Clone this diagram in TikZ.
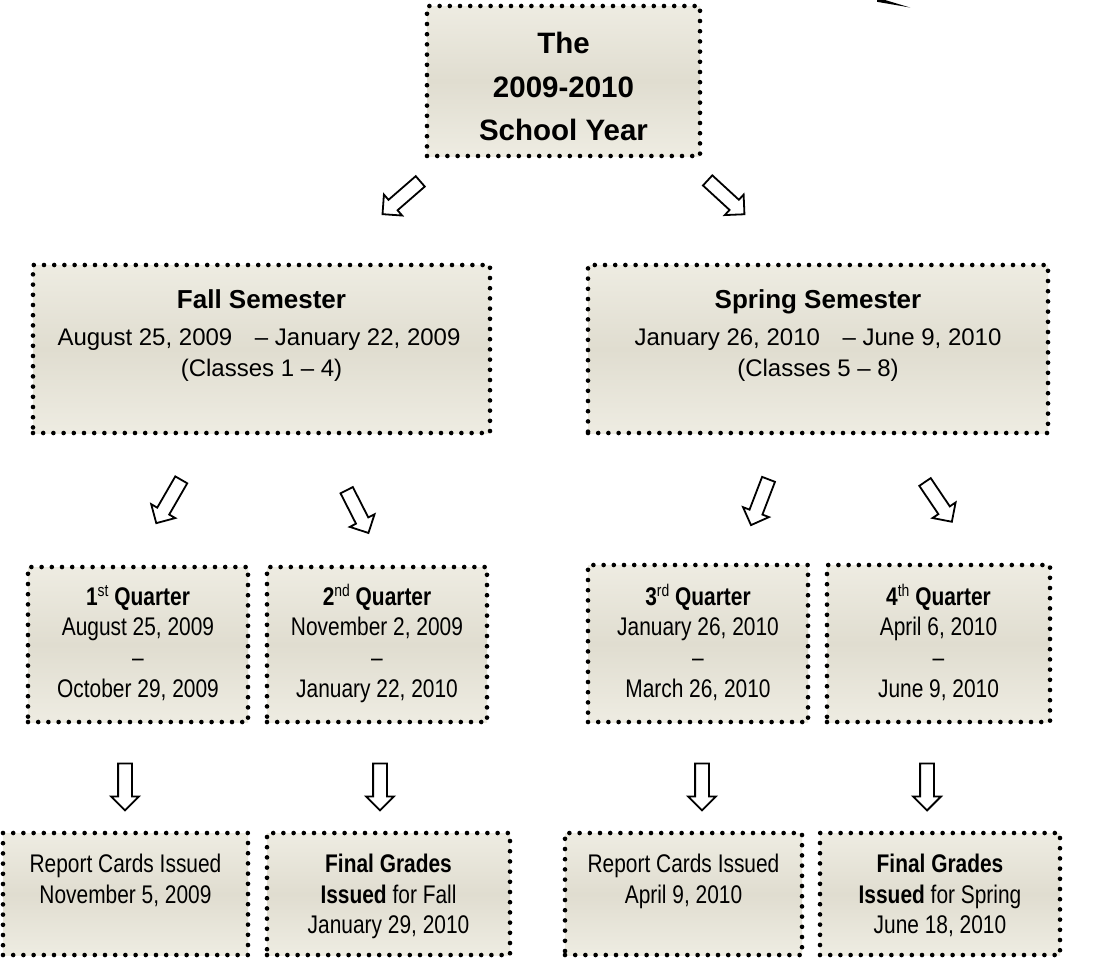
\documentclass[tikz,border=0pt]{standalone}
\usepackage{fontspec}
\setmainfont{Liberation Sans}
\newfontfamily\narrowfam{Liberation Sans}[FakeStretch=0.82, Ligatures=TeX]
\usetikzlibrary{shapes.arrows}
\definecolor{boxlight}{HTML}{EEECE2}
\definecolor{boxdark}{HTML}{E0DDD0}
\newcommand\fTop{\fontsize{29.5}{35}\selectfont\bfseries}
\newcommand\fSemB{\fontsize{26}{30}\selectfont\bfseries}
\newcommand\fSem{\fontsize{24}{30}\selectfont}
\newcommand\fQ{\narrowfam\fontsize{25.5}{30}\selectfont}
\newcommand\supr[1]{\raisebox{0.33em}{\mdseries\fontsize{17}{17}\selectfont #1}}
\tikzset{
  box/.style={draw=black, line width=4.6pt, dash pattern=on 0pt off 10.2pt,
    line cap=round, top color=boxlight, bottom color=boxlight,
    middle color=boxdark, inner sep=0pt},
  barrow/.style={draw=black, line width=1.8pt, fill=white, single arrow,
    inner sep=6pt, minimum width=26pt, single arrow head extend=7pt,
    single arrow tip angle=90},
  toptxt/.style={anchor=base, inner sep=0pt, font=\fTop},
  semtitle/.style={anchor=base, inner sep=0pt, font=\fSemB},
  semtxt/.style={anchor=base, inner sep=0pt, font=\fSem},
  qtxt/.style={anchor=base, inner sep=0pt, font=\fQ},
}
\begin{document}
\begin{tikzpicture}[x=1pt, y=-1pt]
\useasboundingbox (0,0) rectangle (1094,959);

% decorative wedge at top right
\fill[black] (877,0) -- (885,0) -- (910,7.5) -- (877,1.8) -- cycle;

% boxes
\node[box, minimum width=273pt, minimum height=150pt] (top) at (563.5,81) {};
\node[box, minimum width=457pt, minimum height=168pt] (fall) at (261.5,349) {};
\node[box, minimum width=460pt, minimum height=168pt] (spring) at (818,349) {};
\node[box, minimum width=220pt, minimum height=155pt] (q1) at (138,644.5) {};
\node[box, minimum width=220pt, minimum height=155pt] (q2) at (377,644.5) {};
\node[box, minimum width=220pt, minimum height=157pt] (q3) at (698,643.5) {};
\node[box, minimum width=223pt, minimum height=157pt] (q4) at (938.5,643.5) {};
\node[box, minimum width=245pt, minimum height=122pt] (r1) at (125.5,894) {};
\node[box, minimum width=243pt, minimum height=122pt] (r2) at (388.5,894) {};
\node[box, minimum width=237pt, minimum height=122pt] (r3) at (683.5,894) {};
\node[box, minimum width=240pt, minimum height=122pt] (r4) at (940,894) {};

% top text
\node[toptxt] (topa) at (563.5,53) {The};
\node[toptxt] (topb) at (563.5,97) {2009-2010};
\node[toptxt] (topc) at (563.5,140) {School Year};

% semester text
\node[semtitle] (falla) at (261.5,308) {Fall Semester};
\node[semtxt] (fallb) at (259,345) {August 25, 2009\hspace{16pt} \textendash{} January 22, 2009};
\node[semtxt] (fallc) at (261.5,376) {(Classes 1 \textendash{} 4)};
\node[semtitle] (springa) at (818,308) {Spring Semester};
\node[semtxt] (springb) at (818,345) {January 26, 2010\hspace{16pt} \textendash{} June 9, 2010};
\node[semtxt] (springc) at (818,376) {(Classes 5 \textendash{} 8)};

% quarter text
\node[qtxt] (q1a) at (138,605) {\bfseries 1\supr{st} Quarter};
\node[qtxt] (q1b) at (138,635) {August 25, 2009};
\node[qtxt] (q1c) at (138,666) {\textendash};
\node[qtxt] (q1d) at (138,697) {October 29, 2009};
\node[qtxt] (q2a) at (377,605) {\bfseries 2\supr{nd} Quarter};
\node[qtxt] (q2b) at (377,635) {November 2, 2009};
\node[qtxt] (q2c) at (377,666) {\textendash};
\node[qtxt] (q2d) at (377,697) {January 22, 2010};
\node[qtxt] (q3a) at (698,605) {\bfseries 3\supr{rd} Quarter};
\node[qtxt] (q3b) at (698,635) {January 26, 2010};
\node[qtxt] (q3c) at (698,666) {\textendash};
\node[qtxt] (q3d) at (698,697) {March 26, 2010};
\node[qtxt] (q4a) at (938.5,605) {\bfseries 4\supr{th} Quarter};
\node[qtxt] (q4b) at (938.5,635) {April 6, 2010};
\node[qtxt] (q4c) at (938.5,666) {\textendash};
\node[qtxt] (q4d) at (938.5,697) {June 9, 2010};

% bottom text
\node[qtxt] (r1a) at (125.5,872) {Report Cards Issued};
\node[qtxt] (r1b) at (125.5,903) {November 5, 2009};
\node[qtxt] (r2a) at (388.5,872) {\bfseries Final Grades};
\node[qtxt] (r2b) at (388.5,903) {\textbf{Issued} for Fall};
\node[qtxt] (r2c) at (388.5,933) {January 29, 2010};
\node[qtxt] (r3a) at (683.5,872) {Report Cards Issued};
\node[qtxt] (r3b) at (683.5,903) {April 9, 2010};
\node[qtxt] (r4a) at (940,872) {\bfseries Final Grades};
\node[qtxt] (r4b) at (940,903) {\textbf{Issued} for Spring};
\node[qtxt] (r4c) at (940,933) {June 18, 2010};

% block arrows
\node[barrow, rotate=-139, minimum height=50pt] (a1) at (404,195.5) {};
\node[barrow, rotate=-42.6, minimum height=50pt] (a2) at (723.5,195) {};
\node[barrow, rotate=-120, minimum height=50pt] (b1) at (170.5,498.5) {};
\node[barrow, rotate=-63, minimum height=48pt] (b2) at (356,508.5) {};
\node[barrow, rotate=-111, minimum height=49pt] (b3) at (761,499) {};
\node[barrow, rotate=-56, minimum height=48pt] (b4) at (936.5,499) {};
\node[barrow, rotate=-90, minimum height=47pt] (c1) at (125,783.5) {};
\node[barrow, rotate=-90, minimum height=47pt] (c2) at (380,783.5) {};
\node[barrow, rotate=-90, minimum height=47pt] (c3) at (702,783.5) {};
\node[barrow, rotate=-90, minimum height=47pt] (c4) at (927,783.5) {};
\end{tikzpicture}
\end{document}
